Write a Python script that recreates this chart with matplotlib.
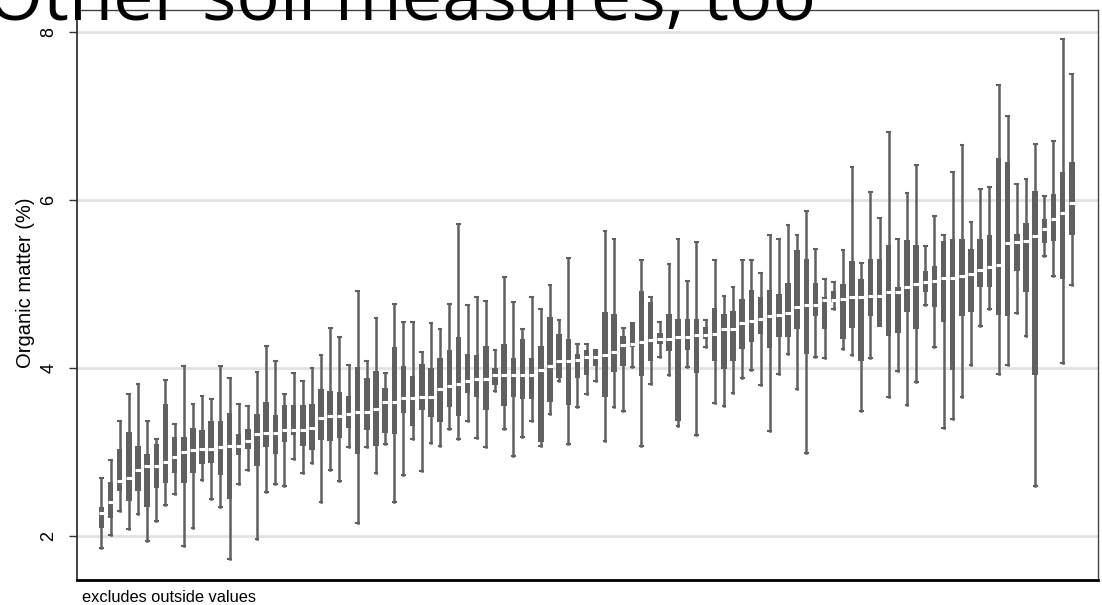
import matplotlib
matplotlib.use('Agg')
import matplotlib.pyplot as plt

# per-site organic matter (%) box stats, sorted by median
whi = [2.69, 2.90, 3.37, 3.69, 3.81, 3.37, 3.15, 3.86, 3.33, 4.02, 3.57, 3.67, 3.63, 4.02, 3.88, 3.57, 3.55, 3.95,
       4.26, 4.08, 3.69, 3.94, 3.84, 4.00, 4.15, 4.48, 4.37, 4.04, 4.92, 4.08, 4.59, 3.94, 4.76, 4.55, 4.55, 4.19,
       4.53, 4.47, 4.76, 5.72, 4.75, 4.84, 4.80, 4.21, 5.08, 4.79, 4.46, 4.84, 4.70, 4.99, 4.57, 5.31, 4.28, 4.28,
       4.22, 5.63, 5.53, 4.48, 4.53, 5.29, 4.85, 4.55, 5.24, 5.54, 5.04, 5.50, 4.57, 5.29, 4.86, 4.97, 5.29, 5.29,
       5.13, 5.58, 5.54, 5.70, 5.58, 5.87, 5.42, 5.06, 5.02, 5.41, 6.39, 5.25, 6.10, 5.79, 6.81, 5.54, 6.08, 6.42,
       5.45, 5.81, 5.58, 6.33, 6.65, 5.74, 6.13, 6.16, 7.37, 7.00, 6.19, 6.25, 6.67, 6.05, 6.70, 7.92, 7.50]
q3 = [2.35, 2.64, 3.04, 3.24, 3.07, 2.98, 3.10, 3.57, 3.18, 3.18, 3.29, 3.26, 3.37, 3.37, 3.47, 3.21, 3.27, 3.45,
      3.60, 3.44, 3.56, 3.56, 3.56, 3.57, 3.75, 3.73, 3.71, 3.67, 4.01, 3.88, 3.96, 3.76, 4.25, 4.02, 3.90, 4.05,
      4.00, 4.12, 4.21, 4.37, 4.17, 4.15, 4.26, 4.00, 4.29, 4.12, 4.34, 4.12, 4.26, 4.61, 4.41, 4.35, 4.17, 4.21,
      4.21, 4.67, 4.64, 4.38, 4.53, 4.92, 4.79, 4.42, 4.64, 4.58, 4.58, 4.58, 4.49, 4.72, 4.64, 4.68, 4.82, 4.93,
      4.84, 4.93, 4.88, 5.01, 5.41, 5.30, 5.01, 4.84, 4.92, 5.00, 5.27, 5.06, 5.30, 5.30, 5.47, 4.97, 5.52, 5.46,
      5.16, 5.22, 5.51, 5.54, 5.54, 5.42, 5.53, 5.58, 6.50, 6.45, 5.60, 5.73, 6.11, 5.77, 6.07, 6.33, 6.45]
med = [2.27, 2.40, 2.66, 2.69, 2.78, 2.83, 2.83, 2.88, 2.94, 3.00, 3.02, 3.04, 3.04, 3.06, 3.07, 3.07, 3.13, 3.21,
       3.23, 3.23, 3.26, 3.26, 3.26, 3.28, 3.40, 3.43, 3.43, 3.45, 3.48, 3.48, 3.51, 3.59, 3.60, 3.64, 3.64, 3.65,
       3.66, 3.75, 3.79, 3.81, 3.85, 3.87, 3.87, 3.92, 3.92, 3.92, 3.92, 3.92, 3.98, 4.02, 4.08, 4.08, 4.10, 4.13,
       4.13, 4.15, 4.19, 4.27, 4.29, 4.31, 4.33, 4.35, 4.35, 4.37, 4.37, 4.39, 4.39, 4.40, 4.46, 4.47, 4.53, 4.56,
       4.58, 4.62, 4.63, 4.66, 4.73, 4.75, 4.75, 4.81, 4.81, 4.82, 4.85, 4.85, 4.86, 4.86, 4.91, 4.91, 4.96, 5.00,
       5.02, 5.03, 5.07, 5.07, 5.10, 5.12, 5.17, 5.20, 5.23, 5.49, 5.50, 5.51, 5.57, 5.66, 5.77, 5.85, 5.96]
q1 = [2.09, 2.21, 2.54, 2.42, 2.53, 2.35, 2.57, 2.63, 2.75, 2.63, 2.75, 2.86, 2.87, 2.73, 2.44, 2.96, 3.03, 2.83,
      3.06, 2.98, 3.12, 3.20, 3.07, 3.02, 3.14, 3.13, 3.17, 3.29, 2.98, 3.26, 3.07, 3.23, 3.22, 3.46, 3.31, 3.50,
      3.42, 3.36, 3.53, 3.43, 3.70, 3.66, 3.50, 3.80, 3.55, 3.65, 3.63, 3.63, 3.12, 3.60, 3.88, 3.56, 3.88, 3.92,
      4.02, 3.65, 3.95, 4.02, 4.25, 3.90, 4.08, 4.29, 4.20, 3.37, 4.21, 3.94, 4.35, 4.08, 3.99, 4.08, 4.23, 4.31,
      4.40, 4.24, 4.37, 4.37, 4.46, 4.17, 4.62, 4.47, 4.79, 4.34, 4.48, 4.08, 4.62, 4.50, 4.38, 4.42, 4.67, 4.47,
      4.91, 4.73, 4.55, 3.98, 4.62, 4.67, 4.96, 4.96, 4.63, 4.62, 5.16, 4.91, 3.92, 5.49, 5.51, 5.06, 5.58]
wlo = [1.86, 2.01, 2.30, 2.08, 2.26, 1.94, 2.18, 2.37, 2.50, 1.88, 2.10, 2.67, 2.44, 2.34, 1.73, 2.62, 2.78, 1.97,
       2.52, 2.62, 2.59, 2.92, 2.75, 2.87, 2.40, 2.78, 2.66, 3.06, 2.16, 3.06, 2.75, 3.10, 2.40, 2.73, 3.16, 2.77,
       3.11, 3.07, 3.27, 3.16, 3.37, 3.17, 3.06, 3.73, 3.27, 2.95, 3.18, 3.37, 3.07, 3.45, 3.84, 3.10, 3.54, 3.69,
       3.85, 3.13, 3.54, 3.49, 4.01, 3.07, 3.81, 4.13, 3.92, 3.31, 4.01, 3.20, 4.25, 3.58, 3.55, 3.70, 3.88, 3.98,
       3.80, 3.25, 3.93, 4.17, 3.75, 2.99, 4.13, 4.12, 4.70, 4.23, 4.16, 3.49, 4.12, 4.50, 3.65, 3.97, 3.56, 3.83,
       4.75, 4.25, 3.28, 3.39, 3.66, 4.03, 4.50, 4.70, 3.93, 4.04, 4.66, 4.38, 2.59, 5.33, 5.09, 4.06, 4.99]

yticks = [2, 4, 6, 8]
title = "Other soil measures, too"
ylabel = "Organic matter (%)"
note = "excludes outside values"

box_color = '#606060'

fig = plt.figure(figsize=(11.02, 6.05), dpi=100)
ax = fig.add_axes([0.0699, 0.0413, 0.9265, 0.9422])

stats = [dict(whislo=wlo[i], q1=q1[i], med=med[i], q3=q3[i], whishi=whi[i])
         for i in range(len(med))]
positions = list(range(1, len(med) + 1))
ax.bxp(stats, positions=positions, widths=0.6, patch_artist=True, showfliers=False,
       boxprops=dict(facecolor=box_color, edgecolor='none', linewidth=0),
       medianprops=dict(color='white', linewidth=2.2, solid_capstyle='butt'),
       whiskerprops=dict(color=box_color, linewidth=1.8),
       capprops=dict(color=box_color, linewidth=1.5),
       capwidths=0.3)

ax.set_xlim(-1.66, 109.87)
ax.set_ylim(1.476, 8.262)
ax.set_xticks([])
ax.set_yticks(yticks)
ax.set_yticklabels([str(t) for t in yticks], rotation=90, va='center',
                   fontsize=13, family='Liberation Sans')
ax.tick_params(axis='y', length=6, width=1, color='#333333', pad=8)
ax.yaxis.grid(True, color='#e2e2e2', linewidth=2)
ax.set_axisbelow(True)
ax.set_ylabel(ylabel, fontsize=14.5, family='Liberation Sans')
ax.yaxis.set_label_coords(-0.041, 0.521)

for side in ['top', 'right']:
    ax.spines[side].set_color('#444444')
    ax.spines[side].set_linewidth(1)
ax.spines['left'].set_color('#222222')
ax.spines['left'].set_linewidth(1.2)
ax.spines['bottom'].set_color('black')
ax.spines['bottom'].set_linewidth(2)

fig.text(82 / 1102, 1 - 597 / 605, note, fontsize=11.8, family='Liberation Sans',
         va='center', ha='left')
fig.text(-0.012, 1 - 20 / 605, title, fontsize=52, family='Open Sans',
         va='baseline', ha='left', zorder=10)

fig.savefig('out.png', dpi=100)
